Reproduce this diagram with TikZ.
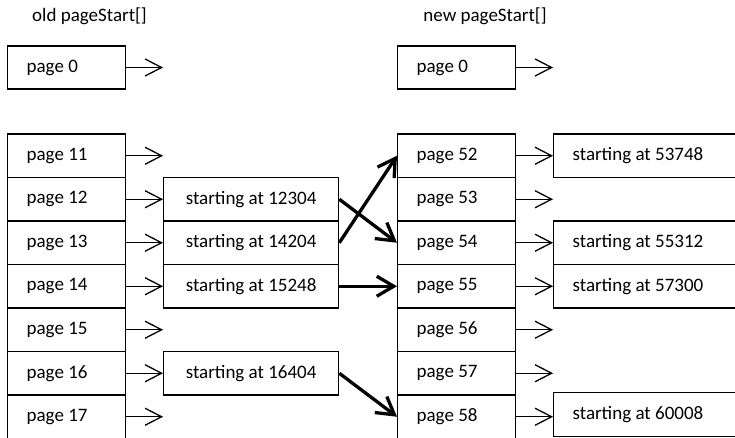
\documentclass[tikz,border=0pt]{standalone}
\usepackage{fontspec}
\setmainfont{Carlito}
\usetikzlibrary{arrows.meta}
\newcommand{\lbox}[2]{\makebox[#1][l]{#2}}
\begin{document}
\begin{tikzpicture}[x=1pt,y=-1pt,
  font=\fontsize{19}{22}\selectfont,
  pagebox/.style={draw,line width=1.3pt,minimum height=43.5pt,inner xsep=19pt,inner ysep=0pt,anchor=west},
  startbox/.style={draw,line width=1.3pt,minimum height=43.5pt,minimum width=175pt,inner sep=0pt,anchor=west},
  rstartbox/.style={draw,line width=1.3pt,minimum height=43.5pt,inner xsep=19pt,inner ysep=0pt,anchor=west},
  thinarr/.style={line width=1.3pt,-{Straight Barb[length=16.5pt,width=17pt,line width=1.3pt]}},
  thickarr/.style={line width=3.3pt,-{Straight Barb[length=17pt,width=20pt,line width=3.3pt]}},
  title/.style={inner sep=0pt}
]
\useasboundingbox (0,0) rectangle (735,438);
\clip (0,0) rectangle (735,438);

% titles
\node[title] (tOld) at (89.5,16) {old pageStart[]};
\node[title] (tNew) at (485,16) {new pageStart[]};

% page 0 boxes
\node[pagebox,minimum height=43pt] (l0) at (7,67.5) {\lbox{80pt}{page 0}};
\node[pagebox,minimum height=43pt] (r0) at (397,67.5) {\lbox{80pt}{page 0}};
\coordinate (l0e) at (163,67.5);
\coordinate (r0e) at (553,67.5);
\draw[thinarr] (l0) -- (l0e);
\draw[thinarr] (r0) -- (r0e);

% left column
\node[pagebox] (l11) at (7,155.75) {\lbox{80pt}{page 11}};
\node[pagebox] (l12) at (7,199.25) {\lbox{80pt}{page 12}};
\node[pagebox] (l13) at (7,242.75) {\lbox{80pt}{page 13}};
\node[pagebox] (l14) at (7,286.25) {\lbox{80pt}{page 14}};
\node[pagebox] (l15) at (7,329.75) {\lbox{80pt}{page 15}};
\node[pagebox] (l16) at (7,373.25) {\lbox{80pt}{page 16}};
\node[pagebox] (l17) at (7,416.75) {\lbox{80pt}{page 17}};

% middle boxes
\node[startbox] (m12) at (163,199.25) {starting at 12304};
\node[startbox] (m13) at (163,242.75) {starting at 14204};
\node[startbox] (m14) at (163,286.25) {starting at 15248};
\node[startbox] (m16) at (163,373.25) {starting at 16404};

% right column
\node[pagebox] (r52) at (397,155.75) {\lbox{80pt}{page 52}};
\node[pagebox] (r53) at (397,199.25) {\lbox{80pt}{page 53}};
\node[pagebox] (r54) at (397,242.75) {\lbox{80pt}{page 54}};
\node[pagebox] (r55) at (397,286.25) {\lbox{80pt}{page 55}};
\node[pagebox] (r56) at (397,329.75) {\lbox{80pt}{page 56}};
\node[pagebox] (r57) at (397,373.25) {\lbox{80pt}{page 57}};
\node[pagebox] (r58) at (397,416.75) {\lbox{80pt}{page 58}};

% right start boxes
\node[rstartbox] (s52) at (553,155.75) {\lbox{200pt}{starting at 53748}};
\node[rstartbox] (s54) at (553,242.75) {\lbox{200pt}{starting at 55312}};
\node[rstartbox] (s55) at (553,286.25) {\lbox{200pt}{starting at 57300}};
\node[rstartbox] (s58) at (553,414.5) {\lbox{200pt}{starting at 60008}};

% free arrow ends
\coordinate (l11e) at (163,155.75);
\coordinate (l15e) at (163,329.75);
\coordinate (l17e) at (163,416.75);
\coordinate (r53e) at (553,199.25);
\coordinate (r56e) at (553,329.75);
\coordinate (r57e) at (553,373.25);

% thin arrows left
\draw[thinarr] (l11.east) -- (l11e);
\draw[thinarr] (l12.east) -- (m12.west);
\draw[thinarr] (l13.east) -- (m13.west);
\draw[thinarr] (l14.east) -- (m14.west);
\draw[thinarr] (l15.east) -- (l15e);
\draw[thinarr] (l16.east) -- (m16.west);
\draw[thinarr] (l17.east) -- (l17e);

% thin arrows right
\draw[thinarr] (r52.east) -- (s52.west);
\draw[thinarr] (r53.east) -- (r53e);
\draw[thinarr] (r54.east) -- (s54.west);
\draw[thinarr] (r55.east) -- (s55.west);
\draw[thinarr] (r56.east) -- (r56e);
\draw[thinarr] (r57.east) -- (r57e);
\draw[thinarr] (r58.east) -- (s58.west |- r58.east);

% thick arrows
\draw[thickarr] (m12.east) -- (r54.west);
\draw[thickarr] (m13.east) -- (r52.west);
\draw[thickarr] (m14.east) -- (r55.west);
\draw[thickarr] (m16.east) -- (r58.west);
\end{tikzpicture}
\end{document}
